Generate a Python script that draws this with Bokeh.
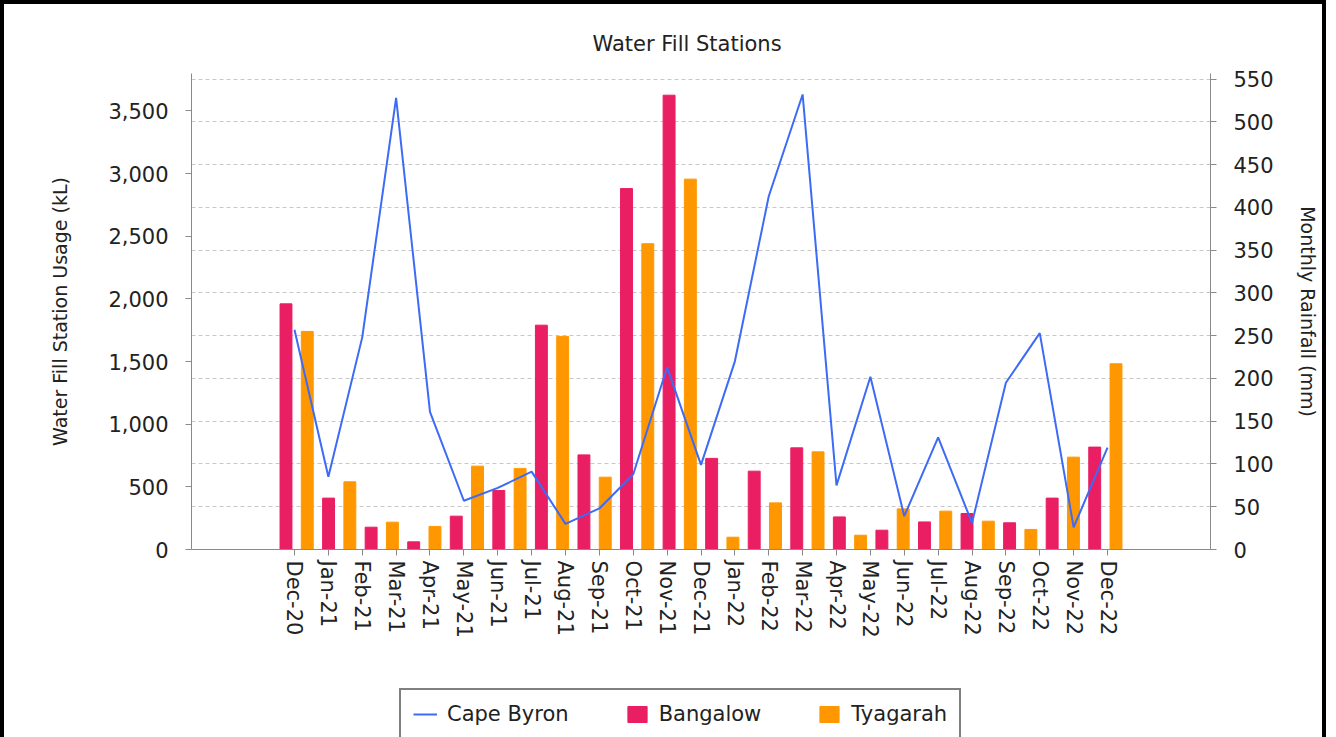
import math
from bokeh.plotting import figure
from bokeh.layouts import column
from bokeh.models import (FactorRange, Range1d, LinearAxis, SingleIntervalTicker,
                          NumeralTickFormatter, Grid, Legend, LegendItem)
from bokeh.embed import file_html
from bokeh.resources import INLINE

# ---- data ----
months = ["Dec-20", "Jan-21", "Feb-21", "Mar-21", "Apr-21", "May-21", "Jun-21",
          "Jul-21", "Aug-21", "Sep-21", "Oct-21", "Nov-21", "Dec-21", "Jan-22",
          "Feb-22", "Mar-22", "Apr-22", "May-22", "Jun-22", "Jul-22", "Aug-22",
          "Sep-22", "Oct-22", "Nov-22", "Dec-22"]
cape_byron = [257, 85, 248, 528, 161, 57, 72, 91, 30, 48, 88, 213, 99, 220,
              413, 532, 75, 202, 39, 131, 31, 195, 253, 26, 119]

bar_periods = ["P01", "P02", "P03", "P04", "P05", "P06", "P07", "P08", "P09", "P10",
               "P11", "P12", "P13", "P14", "P15", "P16", "P17", "P18", "P19", "P20"]
bangalow = [1960, 410, 178, 61, 266, 471, 1790, 755, 2880, 3625,
            727, 625, 811, 260, 154, 220, 287, 213, 410, 817]
tyagarah = [1740, 540, 218, 184, 665, 647, 1700, 577, 2440, 2955,
            98, 372, 779, 114, 324, 306, 226, 160, 737, 1482]
stations = ["Bangalow", "Tyagarah"]

# legend-key proxies (lie outside the legend strip's visible range)
key_x = [0]
key_y = [0]

FONT = "DejaVu Sans"
TXT = "#222222"
AX = "#8a8a8a"
C_LINE, C_BANG, C_TYAG = "#3D6BF5", "#E91E63", "#FF9800"

x_month = FactorRange(factors=months, range_padding=2.54, range_padding_units="absolute")
p = figure(width=1318, height=641, x_range=x_month, y_range=Range1d(0, 3798),
           output_backend="svg", toolbar_location=None,
           min_border_left=187, min_border_right=112, min_border_top=69,
           min_border_bottom=96)
p.extra_x_ranges = {"bars": FactorRange(
    factors=[(b, s) for b in bar_periods for s in stations],
    range_padding=3.94, range_padding_units="absolute",
    group_padding=0, subgroup_padding=0, factor_padding=0)}
p.extra_y_ranges = {"rain": Range1d(0, 556.5)}

p.outline_line_color = None
p.background_fill_color = "white"
p.border_fill_color = "white"
p.xgrid.visible = False
p.ygrid.visible = False

# title
p.title.text = "Water Fill Stations"
p.title.text_font = FONT
p.title.text_font_size = "21px"
p.title.text_font_style = "normal"
p.title.text_color = TXT
p.title.align = "left"
p.title.offset = 401
p.title.standoff = 35

# left axis
la = p.yaxis[0]
la.ticker = SingleIntervalTicker(interval=500, num_minor_ticks=0)
la.formatter = NumeralTickFormatter(format="0,0")
la.axis_label = "Water Fill Station Usage (kL)"

# right axis
ra = LinearAxis(y_range_name="rain",
                ticker=SingleIntervalTicker(interval=50, num_minor_ticks=0),
                axis_label="Monthly Rainfall (mm)")
p.add_layout(ra, "right")

xa = p.xaxis[0]
xa.major_label_orientation = -math.pi / 2

for ax in (la, ra, xa):
    ax.axis_line_color = AX
    ax.major_tick_line_color = AX
    ax.minor_tick_line_color = None
    ax.major_tick_out = 6
    ax.major_tick_in = 0
    ax.major_label_text_font = FONT
    ax.major_label_text_font_size = "21px"
    ax.major_label_text_color = TXT
    ax.axis_label_text_font = FONT
    ax.axis_label_text_font_size = "19px"
    ax.axis_label_text_font_style = "normal"
    ax.axis_label_text_color = TXT
la.major_label_standoff = 17
la.axis_label_standoff = 34
ra.major_label_standoff = 17
ra.axis_label_standoff = 20
xa.major_label_standoff = 5

grid = Grid(dimension=1, ticker=ra.ticker, y_range_name="rain",
            grid_line_color="#c8c8c8", grid_line_dash="4 3", grid_line_width=1)
p.add_layout(grid)

# bars
p.vbar(x=[(b, "Bangalow") for b in bar_periods], top=bangalow, width=0.56,
       color=C_BANG, x_range_name="bars")
p.vbar(x=[(b, "Tyagarah") for b in bar_periods], top=tyagarah, width=0.56,
       color=C_TYAG, x_range_name="bars")
# line
p.line(x=months, y=cape_byron, y_range_name="rain", line_color=C_LINE, line_width=2)

# ---- legend strip (below the chart) ----
p2 = figure(width=1318, height=92, x_range=Range1d(0, 1), y_range=Range1d(1, 2),
            x_axis_type=None, y_axis_type=None, output_backend="svg",
            toolbar_location=None, min_border=0)
p2.outline_line_color = None
p2.background_fill_color = "white"
p2.border_fill_color = "white"
k_c = p2.line(x=key_x, y=key_y, line_color=C_LINE, line_width=2)
k_b = p2.vbar(x=key_x, top=key_y, width=0.5, color=C_BANG)
k_t = p2.vbar(x=key_x, top=key_y, width=0.5, color=C_TYAG)

legend = Legend(items=[LegendItem(label="Cape Byron", renderers=[k_c]),
                       LegendItem(label="Bangalow", renderers=[k_b]),
                       LegendItem(label="Tyagarah", renderers=[k_t])],
                orientation="horizontal", location=(208, -3), margin=0,
                border_line_color="black", border_line_width=2,
                label_text_font=FONT, label_text_font_size="21px",
                label_text_color=TXT,
                glyph_width=24, glyph_height=20, spacing=56, padding=12,
                label_standoff=10, background_fill_color="white",
                background_fill_alpha=1)
p2.add_layout(legend)

layout = column(p, p2, spacing=0)
layout.styles = {"border-top": "4px solid black", "border-left": "4px solid black",
                 "border-right": "4px solid black"}

open("out.html", "w").write(file_html(layout, INLINE))
